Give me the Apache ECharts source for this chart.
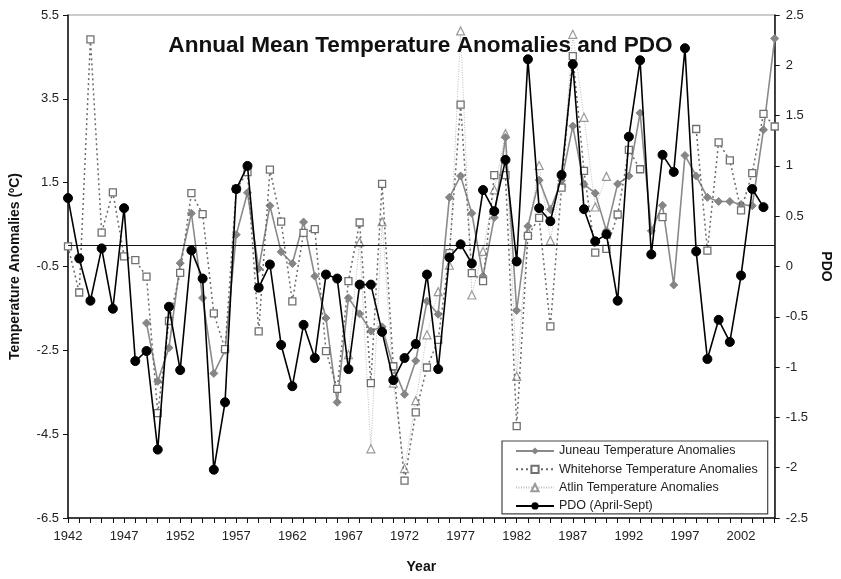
<!DOCTYPE html>
<html>
<head>
<meta charset="utf-8">
<script src="https://cdn.jsdelivr.net/npm/echarts@6/dist/echarts.min.js"></script>
<style>
html,body{margin:0;padding:0;background:#fff;}
#chart{width:841px;height:579px;}
</style>
</head>
<body>
<div id="chart"></div>
<script>
const years = [1942,1943,1944,1945,1946,1947,1948,1949,1950,1951,1952,1953,1954,1955,1956,1957,1958,1959,1960,1961,1962,1963,1964,1965,1966,1967,1968,1969,1970,1971,1972,1973,1974,1975,1976,1977,1978,1979,1980,1981,1982,1983,1984,1985,1986,1987,1988,1989,1990,1991,1992,1993,1994,1995,1996,1997,1998,1999,2000,2001,2002,2003,2004,2005];

const juneau = [null,null,null,null,null,null,null,-1.85,-3.24,-2.44,-0.42,0.77,-1.25,-3.05,-2.50,0.26,1.26,-0.55,0.95,-0.15,-0.43,0.56,-0.73,-1.73,-3.74,-1.25,-1.63,-2.04,-1.94,-2.90,-3.55,-2.75,-1.33,-1.64,1.15,1.66,0.77,-0.73,0.67,2.58,-1.55,0.46,1.56,0.86,1.55,2.85,1.46,1.25,0.35,1.47,1.66,3.16,0.35,0.96,-0.94,2.15,1.66,1.15,1.05,1.05,0.98,0.95,2.76,4.94];

const whitehorse = [-0.02,-1.12,4.92,0.31,1.27,-0.26,-0.35,-0.74,-4.00,-1.80,-0.65,1.25,0.75,-1.62,-2.47,1.35,1.75,-2.05,1.81,0.57,-1.33,0.30,0.39,-2.52,-3.42,-0.85,0.55,-3.28,1.47,-2.88,-5.61,-3.98,-2.91,-2.25,-0.18,3.36,-0.66,-0.85,1.68,1.68,-4.31,0.23,0.66,-1.93,1.38,4.52,1.78,-0.17,-0.08,0.74,2.28,1.82,null,0.68,null,null,2.78,-0.12,2.46,2.03,0.84,1.73,3.14,2.84];

const atlin = [null,null,null,null,null,null,null,null,null,null,null,null,null,null,null,null,null,null,null,null,null,null,null,null,null,-2.6,0.08,-4.85,0.57,-3.28,-5.32,-3.7,-2.13,-1.10,-0.47,5.12,-1.18,-0.14,1.33,2.67,-3.12,0.33,1.91,0.12,1.50,5.04,3.06,0.92,1.65,null,null,null,null,null,null,null,null,null,null,null,null,null,null,null];

const pdo = [0.68,0.08,-0.34,0.18,-0.42,0.58,-0.94,-0.84,-1.82,-0.40,-1.03,0.16,-0.12,-2.02,-1.35,0.77,1.00,-0.21,0.02,-0.78,-1.19,-0.58,-0.91,-0.08,-0.12,-1.02,-0.18,-0.18,-0.65,-1.13,-0.91,-0.77,-0.08,-1.02,0.09,0.22,0.03,0.76,0.55,1.06,0.05,2.06,0.58,0.45,0.91,2.01,0.57,0.25,0.32,-0.34,1.29,2.05,0.12,1.11,0.94,2.17,0.15,-0.92,-0.53,-0.75,-0.09,0.77,0.59,null];

const leftTicks = {min: -6.5, max: 5.5, interval: 2};
const rightTicks = {min: -2.5, max: 2.5, interval: 0.5};
const xRange = {min: 1942, max: 2005, labelStep: 5};

const FONT = "'Liberation Sans', Arial, Helvetica, sans-serif";
function pairs(arr){ return years.map((y,i)=>[y, arr[i] === null ? '-' : arr[i]]); }

const chart = echarts.init(document.getElementById('chart'), null, {renderer:'canvas'});
chart.setOption({
  animation: false,
  backgroundColor: '#fff',
  textStyle: {fontFamily: FONT},
  title: {
    text: 'Annual Mean Temperature Anomalies and PDO',
    left: 'center', top: 29,
    textStyle: {fontFamily: FONT, fontSize: 22.6, fontWeight: 'bold', color: '#111'}
  },
  grid: {left: 66, right: 54, top: 15, bottom: 52, show: true, borderColor: '#999', borderWidth: 1, containLabel: false},
  legend: {
    orient: 'vertical', left: 502, top: 441,
    padding: [3, 10, 1, 13],
    itemWidth: 38, itemHeight: 9, itemGap: 4.3,
    borderColor: '#444', borderWidth: 1.2, backgroundColor: '#fff',
    textStyle: {fontFamily: FONT, fontSize: 12.5, color: '#222', lineHeight: 14},
    data: ['Juneau Temperature Anomalies','Whitehorse Temperature Anomalies','Atlin Temperature Anomalies','PDO (April-Sept)']
  },
  xAxis: {
    type: 'value', min: xRange.min, max: xRange.max, interval: 1,
    name: 'Year', nameLocation: 'middle', nameGap: 42,
    nameTextStyle: {fontFamily: FONT, fontSize: 14, fontWeight: 'bold', color: '#111'},
    axisLine: {show: true, onZero: false, lineStyle: {color: '#111', width: 1.5}},
    axisTick: {show: true, length: 5, lineStyle: {color: '#111', width: 1}},
    axisLabel: {fontFamily: FONT, fontSize: 13, color: '#222', margin: 12,
      formatter: v => ((v - xRange.min) % xRange.labelStep === 0 && v < xRange.max) ? String(v) : ''},
    splitLine: {show: false}
  },
  yAxis: [
    {
      type: 'value', position: 'left', min: leftTicks.min, max: leftTicks.max, interval: leftTicks.interval,
      name: 'Temperature Anomalies (ºC)', nameLocation: 'middle', nameGap: 46,
      nameTextStyle: {fontFamily: FONT, fontSize: 14, fontWeight: 'bold', color: '#111'},
      axisLine: {show: true, onZero: false, lineStyle: {color: '#111', width: 1.5}},
      axisTick: {show: true, length: 5, lineStyle: {color: '#111'}},
      axisLabel: {fontFamily: FONT, fontSize: 13, color: '#222', margin: 9},
      splitLine: {show: false}
    },
    {
      type: 'value', position: 'right', min: rightTicks.min, max: rightTicks.max, interval: rightTicks.interval,
      name: 'PDO', nameLocation: 'middle', nameGap: 40, nameRotate: -90,
      nameTextStyle: {fontFamily: FONT, fontSize: 14, fontWeight: 'bold', color: '#111'},
      axisLine: {show: true, onZero: false, lineStyle: {color: '#111', width: 1.5}},
      axisTick: {show: true, length: 5, lineStyle: {color: '#111'}},
      axisLabel: {fontFamily: FONT, fontSize: 13, color: '#222', margin: 11},
      splitLine: {show: false}
    }
  ],
  series: [
    {
      name: 'Juneau Temperature Anomalies', type: 'line', yAxisIndex: 0, z: 3,
      data: pairs(juneau), connectNulls: false,
      symbol: 'diamond', symbolSize: 8,
      itemStyle: {color: '#858585', borderColor: '#858585'},
      lineStyle: {color: '#8a8a8a', width: 1.6, type: 'solid'},
      markLine: {
        silent: true, symbol: 'none', label: {show: false},
        lineStyle: {color: '#111', width: 1, type: 'solid'},
        data: [{yAxis: 0}]
      }
    },
    {
      name: 'Whitehorse Temperature Anomalies', type: 'line', yAxisIndex: 0, z: 4,
      data: pairs(whitehorse), connectNulls: false,
      symbol: 'rect', symbolSize: 7,
      itemStyle: {color: '#fff', borderColor: '#707070', borderWidth: 1.3},
      lineStyle: {color: '#6a6a6a', width: 1.5, type: [2, 3]}
    },
    {
      name: 'Atlin Temperature Anomalies', type: 'line', yAxisIndex: 0, z: 2,
      data: pairs(atlin), connectNulls: false,
      symbol: 'triangle', symbolSize: 8,
      itemStyle: {color: '#fff', borderColor: '#999', borderWidth: 1.2},
      lineStyle: {color: '#bdbdbd', width: 1, type: [1, 1.5]}
    },
    {
      name: 'PDO (April-Sept)', type: 'line', yAxisIndex: 1, z: 5,
      data: pairs(pdo), connectNulls: false,
      symbol: 'circle', symbolSize: 9,
      itemStyle: {color: '#000', borderColor: '#000'},
      lineStyle: {color: '#000', width: 1.6, type: 'solid'}
    }
  ]
});
</script>
</body>
</html>
